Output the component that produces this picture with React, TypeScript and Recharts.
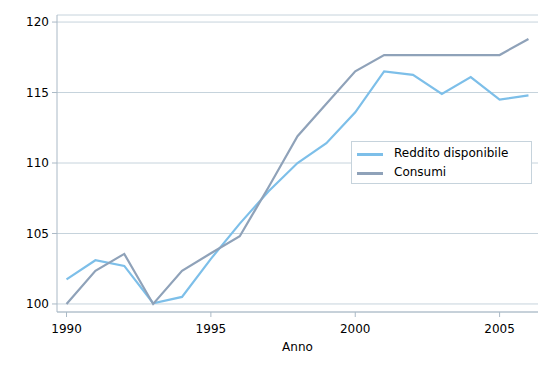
import { LineChart, Line, XAxis, YAxis, CartesianGrid } from "recharts";

const years = [1990, 1991, 1992, 1993, 1994, 1995, 1996, 1997, 1998, 1999, 2000, 2001, 2002, 2003, 2004, 2005, 2006];
const reddito = [101.75, 103.1, 102.7, 100.05, 100.5, 103.2, 105.7, 108.0, 110.0, 111.4, 113.6, 116.5, 116.25, 114.9, 116.1, 114.5, 114.8];
const consumi = [100, 102.35, 103.55, 100, 102.35, 103.6, 104.8, 108.3, 111.9, 114.2, 116.5, 117.66, 117.66, 117.66, 117.66, 117.66, 118.8];
const xTicks = [1990, 1995, 2000, 2005];
const yTicks = [100, 105, 110, 115, 120];

const series = [
  { key: "reddito", name: "Reddito disponibile", color: "#7dbfe9" },
  { key: "consumi", name: "Consumi", color: "#8fa2b9" },
];

const data = years.map((anno, i) => ({ anno, reddito: reddito[i], consumi: consumi[i] }));

const font = "'DejaVu Sans', sans-serif";
const axisColor = "#aab9c6";
const gridColor = "#c6d3dc";

// legenda a riquadro sopra il grafico
function LegendBox() {
  return (
    <div
      style={{
        position: "absolute",
        left: 351,
        top: 141,
        width: 179,
        height: 41,
        border: `1px solid ${gridColor}`,
        background: "#fff",
        fontFamily: font,
        fontSize: 12,
        color: "#000",
      }}
    >
      {series.map((s, i) => (
        <div key={s.key} style={{ position: "absolute", left: 0, top: 3 + i * 19, height: 19, width: "100%" }}>
          <span
            style={{
              position: "absolute",
              left: 5,
              top: 8,
              width: 26,
              height: 3,
              background: s.color,
            }}
          />
          <span style={{ position: "absolute", left: 42, top: 1, whiteSpace: "nowrap" }}>{s.name}</span>
        </div>
      ))}
    </div>
  );
}

export default function App() {
  return (
    <div style={{ position: "absolute", left: 0, top: 0, width: 553, height: 374, background: "#fff" }}>
      <LineChart width={553} height={374} data={data} margin={{ top: 15, right: 15, left: 0, bottom: 18 }}>
        <CartesianGrid vertical={false} stroke={gridColor} />
        <XAxis
          dataKey="anno"
          type="number"
          domain={[1989.67, 2006.33]}
          ticks={xTicks}
          allowDataOverflow
          height={44}
          tickSize={5}
          tickMargin={7}
          stroke={axisColor}
          tick={{ fill: "#000", fontSize: 12, fontFamily: font }}
          label={{ value: "Anno", position: "insideBottom", offset: 5, fill: "#000", fontSize: 12, fontFamily: font }}
        />
        <YAxis
          type="number"
          domain={[99.43, 120.5]}
          ticks={yTicks}
          allowDataOverflow
          width={57}
          tickSize={5}
          tickMargin={3}
          stroke={axisColor}
          tick={{ fill: "#000", fontSize: 12, fontFamily: font }}
        />
        {series.map((s) => (
          <Line
            key={s.key}
            dataKey={s.key}
            name={s.name}
            stroke={s.color}
            strokeWidth={2.2}
            dot={false}
            activeDot={false}
            isAnimationActive={false}
          />
        ))}
      </LineChart>
      <LegendBox />
    </div>
  );
}
